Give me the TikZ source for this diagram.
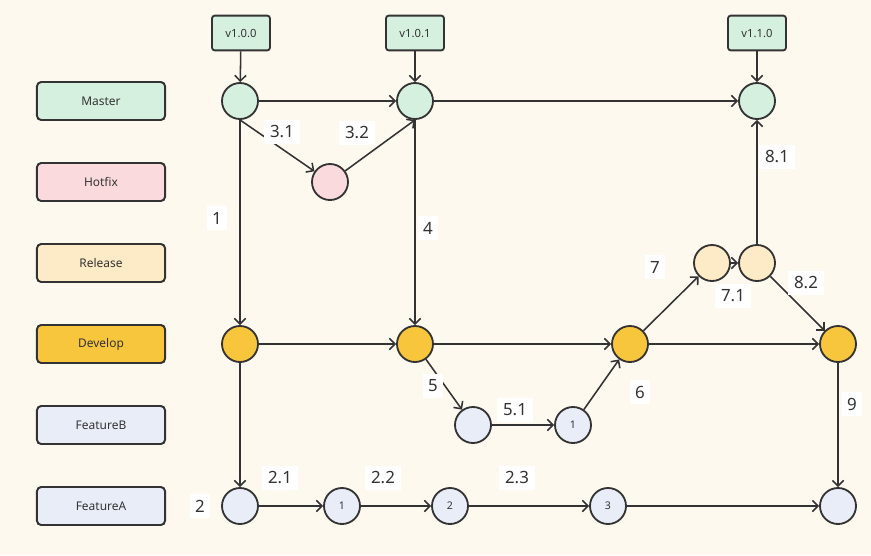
\documentclass[tikz,border=0pt]{standalone}
\usepackage{fontspec}
\setmainfont{Noto Sans}
\usetikzlibrary{arrows.meta,positioning}
\definecolor{bgcream}{HTML}{FDF9EF}
\definecolor{inkgray}{HTML}{333333}
\definecolor{mastergreen}{HTML}{D6F0E0}
\definecolor{hotfixpink}{HTML}{FBDADD}
\definecolor{releasecream}{HTML}{FCEBC6}
\definecolor{developgold}{HTML}{F7C63D}
\definecolor{featureblue}{HTML}{E9EDF8}
\tikzset{branch/.style={draw=inkgray,line width=1.4pt,rounded corners=3pt,minimum width=3.2cm,minimum height=0.95cm,inner sep=0pt,font=\fontsize{8.5}{10}\selectfont,text=inkgray},
         tagbox/.style={draw=inkgray,line width=1.3pt,rounded corners=2pt,fill=mastergreen,minimum width=1.45cm,minimum height=0.87cm,inner sep=0pt,font=\fontsize{8}{9}\selectfont,text=inkgray},
         commit/.style={circle,draw=inkgray,line width=1.3pt,minimum size=0.9cm,inner sep=0pt,font=\fontsize{7.5}{8}\selectfont,text=inkgray},
         flow/.style={draw=inkgray,line width=1.1pt,-{Straight Barb[length=4pt,width=8pt]}},
         lbl/.style={fill=white,inner sep=4pt,font=\fontsize{12}{14}\selectfont,text=inkgray}}

\begin{document}
\begin{tikzpicture}[x=0.025cm,y=-0.025cm]
\fill[bgcream] (0,0) rectangle (871,555);
\useasboundingbox (0,0) rectangle (871,555);
% branch names
\node[branch,fill=mastergreen] (bmaster) at (101,101) {Master};
\node[branch,fill=hotfixpink] (bhotfix) at (101,182) {Hotfix};
\node[branch,fill=releasecream] (brelease) at (101,263) {Release};
\node[branch,fill=developgold] (bdevelop) at (101,344) {Develop};
\node[branch,fill=featureblue] (bfeatb) at (101,425) {FeatureB};
\node[branch,fill=featureblue] (bfeata) at (101,506) {FeatureA};
% commits
\node[commit,fill=mastergreen] (m1) at (240,101) {};
\node[commit,fill=mastergreen] (m2) at (415,101) {};
\node[commit,fill=mastergreen] (m3) at (757,101) {};
\node[commit,fill=hotfixpink] (h1) at (330,182) {};
\node[commit,fill=releasecream] (r1) at (712,263) {};
\node[commit,fill=releasecream] (r2) at (757,263) {};
\node[commit,fill=developgold] (d1) at (240,344) {};
\node[commit,fill=developgold] (d2) at (415,344) {};
\node[commit,fill=developgold] (d3) at (630,344) {};
\node[commit,fill=developgold] (d4) at (838,344) {};
\node[commit,fill=featureblue] (fb1) at (473,425) {};
\node[commit,fill=featureblue] (fb2) at (573,425) {1};
\node[commit,fill=featureblue] (fa1) at (240,506) {};
\node[commit,fill=featureblue] (fa2) at (342,506) {1};
\node[commit,fill=featureblue] (fa3) at (450,506) {2};
\node[commit,fill=featureblue] (fa4) at (608,506) {3};
\node[commit,fill=featureblue] (fa5) at (838,506) {};
% tags
\node[tagbox] (t100) at (241,33) {v1.0.0};
\node[tagbox] (t101) at (415,33) {v1.0.1};
\node[tagbox] (t110) at (757,33) {v1.1.0};
\draw[flow] (t100) -- (m1);
\draw[flow] (t101) -- (m2);
\draw[flow] (t110) -- (m3);
% merges and branches
\draw[flow] (m1) -- (m2);
\draw[flow] (m2) -- (m3);
\draw[flow] (m1.south) -- (h1);
\draw[flow] (h1) -- (m2.south);
\draw[flow] (m1) -- (d1);
\draw[flow] (m2) -- (d2);
\draw[flow] (d1) -- (d2);
\draw[flow] (d2) -- (d3);
\draw[flow] (d3) -- (d4);
\draw[flow] (d1) -- (fa1);
\draw[flow] (fa1) -- (fa2);
\draw[flow] (fa2) -- (fa3);
\draw[flow] (fa3) -- (fa4);
\draw[flow] (fa4) -- (fa5);
\draw[flow] (d2) -- (fb1);
\draw[flow] (fb1) -- (fb2);
\draw[flow] (fb2) -- (d3);
\draw[flow] (d3) -- (r1);
\draw[flow] (r1) -- (r2);
\draw[flow] (r2) -- (m3);
\draw[flow] (r2) -- (d4);
\draw[flow] (d4) -- (fa5);
% step numbers
\node[lbl] (s1) at (217,218) {1};
\node[lbl] (s2) at (200,506) {2};
\node[lbl] (s21) at (280,478) {2.1};
\node[lbl] (s22) at (383,478) {2.2};
\node[lbl] (s23) at (517,478) {2.3};
\node[lbl] (s31) at (282,132) {3.1};
\node[lbl] (s32) at (357,133) {3.2};
\node[lbl] (s4) at (428,228) {4};
\node[lbl] (s5) at (433,386) {5};
\node[lbl] (s51) at (515,410) {5.1};
\node[lbl] (s6) at (640,392) {6};
\node[lbl] (s7) at (655,267) {7};
\node[lbl] (s71) at (733,296) {7.1};
\node[lbl] (s81) at (777,157) {8.1};
\node[lbl] (s82) at (806,283) {8.2};
\node[lbl] (s9) at (852,404) {9};
\end{tikzpicture}
\end{document}
